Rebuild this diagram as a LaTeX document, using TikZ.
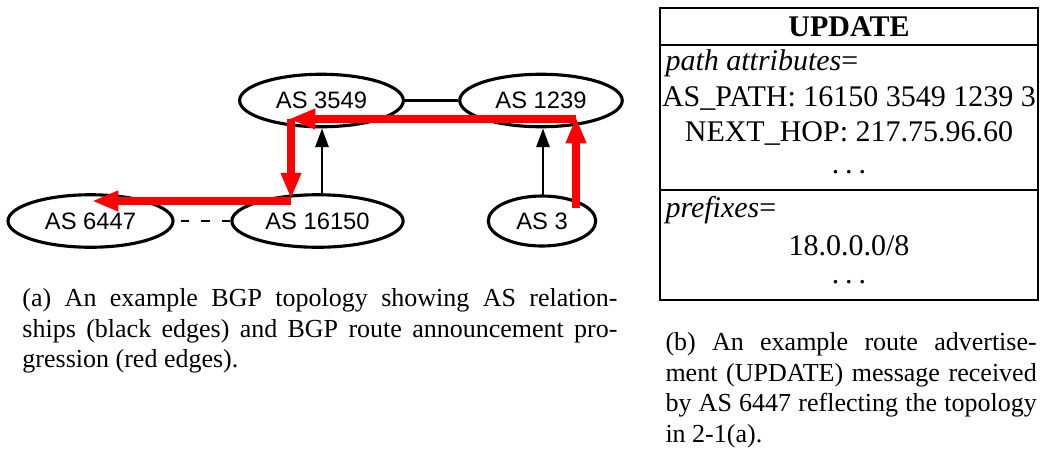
\documentclass[tikz,border=0pt]{standalone}
\usepackage{fontspec}
\setmainfont{Liberation Serif}
\setsansfont{Liberation Sans}
\usetikzlibrary{arrows.meta, positioning, shapes.geometric, calc}

\newcommand{\spaceddots}{.\hspace{0.2em}.\hspace{0.2em}.}

\begin{document}
\begin{tikzpicture}[
    x=0.4pt, y=-0.4pt,
    font=\fontsize{10.4}{12.2}\selectfont,
    asnode/.style={draw, ellipse, line width=1.25pt, minimum height=21pt, inner sep=0pt, font=\sffamily\fontsize{9.5}{11}\selectfont},
    peerline/.style={line width=1.1pt},
    custprov/.style={-{Triangle[length=7.5pt, width=5.2pt]}, line width=1.1pt},
    route/.style={-{Triangle[length=10.5pt, width=7.6pt]}, line width=3.1pt, red},
    cell/.style={font=\fontsize{12}{14}\selectfont, inner sep=0pt},
    capbox/.style={align=justify, inner sep=0pt, anchor=north west}
]
\useasboundingbox (0,0) rectangle (1040,448);

% ===== TOPOLOGY =====
\node[asnode, minimum width=65.5pt] (as3549) at (321.5,100.5) {AS 3549};
\node[asnode, minimum width=65pt] (as1239) at (541,100.5) {AS 1239};
\node[asnode, minimum width=68.5pt] (as16150) at (317.5,221) {AS 16150};
\node[asnode, minimum width=66pt] (as6447) at (90.5,221) {AS 6447};
\node[asnode, minimum width=43pt, minimum height=20pt] (as3) at (542,221) {AS 3};

% AS relationships
\draw[peerline] (as3549.east) -- (as1239.west);
\draw[peerline, dash pattern=on 3.4pt off 4.8pt] (as16150.west) -- (as6447.east);
\draw[custprov] (as3549.south -| 322,0) ++(0,68) -- (as3549.south -| 322,0);
\draw[custprov] (as1239.south -| 543,0) ++(0,68) -- (as1239.south -| 543,0);

% Route announcement
\coordinate (r0) at ($(as3.center)+(34,-13)$);
\coordinate (r1) at (576,117);
\coordinate (r2) at (289,119);
\coordinate (r3) at (291,199);
\coordinate (r4) at (92,201);
\draw[route] (r0) -- (r1);
\draw[route] (r1 |- r2) -- (r2);
\draw[route] (r2 -| r3) -- (r3);
\draw[route] (r3 |- r4) -- (r4);

% ===== UPDATE MESSAGE =====
\coordinate (boxnw) at (660,8);
\coordinate (boxse) at (1038,300);
\draw[line width=0.5pt] (boxnw) rectangle (boxse);
\draw[line width=0.5pt] (boxnw |- 0,45) -- (boxse |- 0,45);
\draw[line width=0.5pt] (boxnw |- 0,190) -- (boxse |- 0,190);

\node[cell] (upd) at (849,27) {\textbf{UPDATE}};
\node[cell, anchor=west] (pattr) at (665,63) {\textit{path attributes}=};
\node[cell] (aspath) at (849,98) {AS\_PATH: 16150 3549 1239 3};
\node[cell] (nhop) at (849,133) {NEXT\_HOP: 217.75.96.60};
\node[cell] (dotsa) at (849,172) {\spaceddots};
\node[cell, anchor=west] (pfx) at (665,210) {\textit{prefixes}=};
\node[cell] (pfxval) at (849,246) {18.0.0.0/8};
\node[cell] (dotsb) at (849,282) {\spaceddots};

% ===== CAPTIONS =====
\node[capbox, text width=238pt] (capa) at (22,288) {(a) An example BGP topology showing AS relation-\linebreak ships (black edges) and BGP route announcement pro-\linebreak gression (red edges).};
\node[capbox, text width=148.5pt] (capb) at (665,332) {(b) An example route advertise-\linebreak ment (UPDATE) message received\linebreak by AS 6447 reflecting the topology\linebreak in 2-1(a).};

\end{tikzpicture}
\end{document}
